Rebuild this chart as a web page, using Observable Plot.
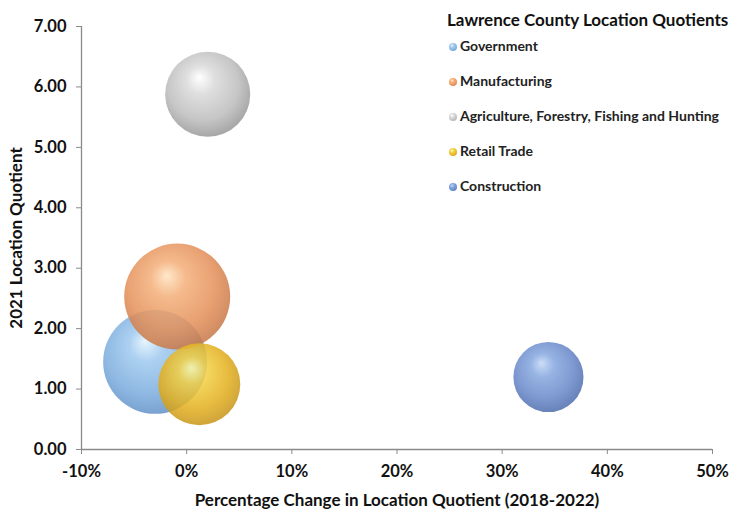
<!DOCTYPE html>
<html>
<head>
<meta charset="utf-8">
<script src="https://cdn.jsdelivr.net/npm/d3@7"></script>
<script src="https://cdn.jsdelivr.net/npm/@observablehq/plot@0.6"></script>
<style>
  html, body { margin: 0; padding: 0; background: #fff; }
  #wrap { position: relative; width: 735px; height: 510px; font-family: Lato, "Open Sans", sans-serif; overflow: hidden; }
  #legend { position: absolute; left: 447px; top: 9px; white-space: nowrap; }
  #legend .title { font-weight: bold; font-size: 17px; color: #111; height: 24px; line-height: 22px; }
  #legend .item { position: absolute; left: 0; font-weight: bold; font-size: 14px; color: #222; white-space: nowrap; }
  #legend .dot { display: inline-block; width: 8px; height: 8px; border-radius: 50%; margin-right: 3px; vertical-align: 0px; margin-left: 2px; }
</style>
</head>
<body>
<div id="wrap"><div id="legend"></div></div>
<script>
const sectors = ["Government", "Manufacturing", "Agriculture, Forestry, Fishing and Hunting", "Retail Trade", "Construction"];
const pctChange = [-0.030, -0.009, 0.020, 0.012, 0.344];
const lq2021 = [1.45, 2.53, 5.88, 1.08, 1.20];
const bubbleSize = [2700, 2810, 1810, 1680, 1230];
const xTicks = [-0.1, 0, 0.1, 0.2, 0.3, 0.4, 0.5];
const yTicks = [0, 1, 2, 3, 4, 5, 6, 7];
// gradient stops: highlight, light, base, edge
const palettes = [
  ["#e2f2ff", "#9dc8ee", "#7cadde", "#5f8fc8"],
  ["#ffe3c0", "#f3ae78", "#e48f58", "#c47545"],
  ["#ffffff", "#d9d9d9", "#bcbcbc", "#949494"],
  ["#fffaa8", "#f3d044", "#e2ae1c", "#c49318"],
  ["#c3d8f7", "#84a6de", "#6787c8", "#4b6aab"]
];
const ids = sectors.map((d, i) => `sphere${i}`);

const data = sectors.map((s, i) => ({sector: s, x: pctChange[i], y: lq2021[i], size: bubbleSize[i]}));

const axisGray = "#8a8a8a";
const chart = Plot.plot({
  width: 735,
  height: 510,
  marginLeft: 81,
  marginRight: 23,
  marginTop: 26,
  marginBottom: 61,
  style: {fontFamily: "Lato, 'Open Sans', sans-serif", fontSize: "16.5px", fontWeight: "bold", color: "#111", background: "transparent"},
  x: {domain: [-0.1, 0.5]},
  y: {domain: [0, 7]},
  r: {domain: [0, 2810], range: [0, 53]},
  color: {type: "ordinal", domain: sectors, range: ids.map(id => `url(#${id})`)},
  marks: [
    Plot.axisX({ticks: xTicks, tickFormat: d => Math.round(d * 100) + "%", tickSize: 5, tickPadding: 11, stroke: axisGray,
      fontSize: 16.5, label: null}),
    Plot.axisX({ticks: [], tickSize: 0, fontSize: 17,
      label: "Percentage Change in Location Quotient (2018-2022)", labelAnchor: "center", labelArrow: "none", labelOffset: 56}),
    Plot.axisY({ticks: yTicks, tickFormat: d3.format(".2f"), tickSize: 5, tickPadding: 10, stroke: axisGray,
      fontSize: 16.5, label: null}),
    Plot.axisY({ticks: [], tickSize: 0, fontSize: 17,
      label: "2021 Location Quotient", labelAnchor: "center", labelArrow: "none", labelOffset: 72}),
    Plot.ruleY([0], {stroke: axisGray, strokeWidth: 1.3}),
    Plot.ruleX([-0.1], {stroke: axisGray, strokeWidth: 1.3}),
    Plot.dot(data, {x: "x", y: "y", r: "size", fill: "sector", fillOpacity: 0.85, sort: null})
  ]
});

const svg = d3.select(chart);
const defs = svg.insert("defs", ":first-child");
palettes.forEach((p, i) => {
  const g = defs.append("radialGradient").attr("id", ids[i])
    .attr("cx", "0.46").attr("cy", "0.42").attr("r", "0.6")
    .attr("fx", "0.40").attr("fy", "0.30");
  [[0, p[0]], [0.28, p[1]], [0.7, p[2]], [1, p[3]]].forEach(([o, c]) =>
    g.append("stop").attr("offset", o).attr("stop-color", c));
});

document.getElementById("wrap").prepend(chart);

const legend = document.getElementById("legend");
const t = document.createElement("div");
t.className = "title";
t.textContent = "Lawrence County Location Quotients";
legend.appendChild(t);
sectors.forEach((s, i) => {
  const it = document.createElement("div");
  it.className = "item";
  it.style.top = (28 + i * 35) + "px";
  const dot = document.createElement("span");
  dot.className = "dot";
  const p = palettes[i];
  dot.style.background = `radial-gradient(circle at 38% 32%, ${p[0]} 0%, ${p[1]} 30%, ${p[2]} 70%, ${p[3]} 100%)`;
  it.appendChild(dot);
  it.appendChild(document.createTextNode(s));
  legend.appendChild(it);
});
</script>
</body>
</html>
